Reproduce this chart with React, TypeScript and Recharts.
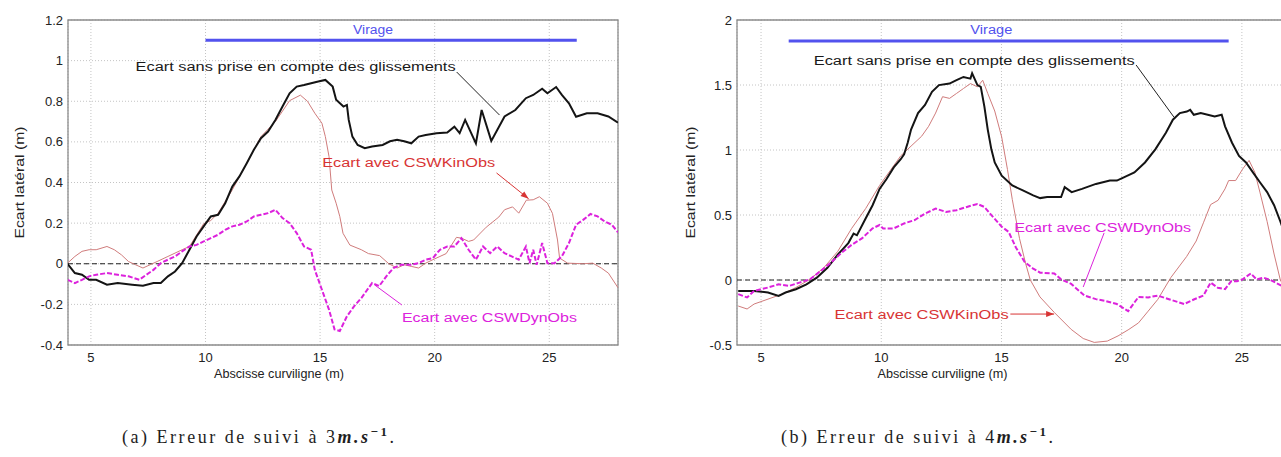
import React from 'react';
import {
  LineChart,
  Line,
  XAxis,
  YAxis,
  CartesianGrid,
  ReferenceLine,
  ReferenceArea,
  ReferenceDot,
} from 'recharts';

const FONT = '"Liberation Sans", Arial, Helvetica, sans-serif';
const SERIF = '"Liberation Serif", "DejaVu Serif", serif';

// Axis ticks
const xTicks = [5, 10, 15, 20, 25];
const yTicksA = [-0.4, -0.2, 0, 0.2, 0.4, 0.6, 0.8, 1, 1.2];
const yTicksB = [-0.5, 0, 0.5, 1, 1.5, 2];

// Texts
const xTitle = 'Abscisse curviligne (m)';
const yTitle = 'Ecart latéral (m)';
const virage = 'Virage';
const noteSans = 'Ecart sans prise en compte des glissements';
const noteKin = 'Ecart avec CSWKinObs';
const noteDyn = 'Ecart avec CSWDynObs';

// (a) 3 m/s — lateral error without slip compensation [abscissa (m), error (m)]
const sansGlissA: [number, number][] = [
  [3.98, 0.0], [4.3, -0.046], [4.61, -0.054], [4.92, -0.079], [5.23, -0.079],
  [5.7, -0.103], [6.17, -0.095], [6.8, -0.103], [7.27, -0.108], [7.73, -0.095],
  [8.05, -0.095], [8.36, -0.062], [8.67, -0.038], [8.98, 0.003], [9.3, 0.069],
  [9.61, 0.134], [9.92, 0.184], [10.23, 0.233], [10.55, 0.241], [10.86, 0.298],
  [11.17, 0.38], [11.48, 0.43], [11.8, 0.495], [12.11, 0.561], [12.42, 0.618],
  [12.73, 0.651], [13.05, 0.708], [13.36, 0.774], [13.67, 0.839], [13.98, 0.872],
  [14.3, 0.88], [14.61, 0.889], [14.92, 0.897], [15.23, 0.905], [15.55, 0.872],
  [15.7, 0.807], [16.02, 0.774], [16.17, 0.782], [16.25, 0.708], [16.41, 0.626],
  [16.64, 0.585], [16.95, 0.569], [17.27, 0.577], [17.73, 0.585], [18.05, 0.603],
  [18.36, 0.61], [18.67, 0.603], [18.98, 0.593], [19.3, 0.626], [19.61, 0.634],
  [20.08, 0.643], [20.55, 0.646], [20.86, 0.675], [21.09, 0.643], [21.33, 0.708],
  [21.8, 0.593], [22.05, 0.757], [22.47, 0.605], [23.05, 0.725], [23.52, 0.757],
  [23.98, 0.815], [24.3, 0.831], [24.69, 0.862], [24.92, 0.839], [25.3, 0.87],
  [25.55, 0.831], [25.86, 0.79], [26.17, 0.724], [26.64, 0.741], [27.11, 0.741],
  [27.58, 0.725], [28.0, 0.695],
];

// (a) 3 m/s — error with CSWKinObs
const kinObsA: [number, number][] = [
  [3.98, 0.003], [4.3, 0.036], [4.61, 0.061], [4.92, 0.069], [5.23, 0.069],
  [5.7, 0.085], [6.02, 0.069], [6.33, 0.044], [6.64, 0.011], [6.95, -0.005],
  [7.27, -0.021], [7.58, -0.005], [7.89, 0.011], [8.36, 0.036], [8.98, 0.069],
  [9.3, 0.085], [9.92, 0.197], [10.23, 0.213], [10.55, 0.249], [11.17, 0.364],
  [11.8, 0.495], [12.42, 0.626], [13.05, 0.7], [13.67, 0.803], [14.14, 0.83],
  [14.45, 0.8], [14.77, 0.741], [15.08, 0.692], [15.23, 0.626], [15.39, 0.528],
  [15.51, 0.363], [15.7, 0.298], [15.86, 0.233], [16.0, 0.15], [16.3, 0.092],
  [16.8, 0.069], [17.11, 0.05], [17.6, 0.04], [18.0, 0.0], [18.36, -0.021],
  [18.67, -0.005], [18.98, -0.013], [19.3, -0.021], [19.61, 0.003], [19.92, 0.02],
  [20.23, 0.036], [20.5, 0.05], [20.95, 0.13], [21.17, 0.126], [21.48, 0.11],
  [21.7, 0.117], [22.25, 0.18], [22.8, 0.23], [23.05, 0.266], [23.4, 0.28],
  [23.67, 0.249], [24.0, 0.313], [24.3, 0.315], [24.57, 0.33], [24.92, 0.298],
  [25.14, 0.248], [25.36, 0.117], [25.45, 0.028], [25.8, 0.003], [26.48, 0.0],
  [26.9, 0.003], [27.27, -0.021], [27.58, -0.046], [28.0, -0.118],
];

// (a) 3 m/s — error with CSWDynObs
const dynObsA: [number, number][] = [
  [3.98, -0.079], [4.3, -0.095], [4.61, -0.079], [4.92, -0.062], [5.23, -0.054],
  [5.7, -0.046], [6.17, -0.054], [6.64, -0.062], [7.11, -0.079], [7.42, -0.054],
  [7.73, -0.03], [8.05, 0.003], [8.36, 0.02], [8.67, 0.036], [8.98, 0.061],
  [9.3, 0.085], [9.61, 0.093], [9.92, 0.11], [10.23, 0.126], [10.55, 0.143],
  [10.86, 0.167], [11.17, 0.184], [11.48, 0.192], [11.8, 0.208], [12.11, 0.233],
  [12.42, 0.241], [12.73, 0.249], [13.05, 0.266], [13.36, 0.225], [13.67, 0.2],
  [13.98, 0.151], [14.3, 0.085], [14.61, 0.069], [14.77, -0.03], [15.08, -0.128],
  [15.39, -0.226], [15.63, -0.323], [15.86, -0.331], [16.17, -0.259], [16.48, -0.21],
  [16.8, -0.169], [17.27, -0.095], [17.58, -0.11], [17.89, -0.062], [18.2, -0.021],
  [18.52, -0.005], [18.98, -0.005], [19.3, 0.003], [19.61, 0.02], [19.92, 0.028],
  [20.23, 0.069], [20.55, 0.085], [20.86, 0.085], [21.17, 0.126], [21.48, 0.069],
  [21.8, 0.02], [22.11, 0.085], [22.42, 0.052], [22.73, 0.085], [23.05, 0.052],
  [23.36, 0.036], [23.67, 0.02], [23.98, 0.085], [24.14, 0.003], [24.3, 0.069],
  [24.45, -0.005], [24.69, 0.102], [24.92, 0.003], [25.23, 0.003], [25.55, 0.036],
  [25.86, 0.102], [26.17, 0.192], [26.48, 0.216], [26.8, 0.245], [27.11, 0.233],
  [27.42, 0.208], [27.73, 0.192], [28.0, 0.155],
];

// (b) 4 m/s — lateral error without slip compensation
const sansGlissB: [number, number][] = [
  [4.05, -0.084], [4.71, -0.084], [5.29, -0.096], [5.73, -0.122], [6.02, -0.096],
  [6.45, -0.071], [6.89, -0.033], [7.32, 0.018], [7.76, 0.094], [8.19, 0.195],
  [8.63, 0.284], [8.85, 0.357], [8.99, 0.344], [9.35, 0.473], [9.64, 0.575],
  [9.93, 0.701], [10.22, 0.777], [10.52, 0.866], [10.81, 0.929], [10.95, 0.967],
  [11.1, 1.056], [11.24, 1.157], [11.53, 1.284], [11.82, 1.347], [12.11, 1.448],
  [12.4, 1.499], [12.84, 1.511], [13.13, 1.537], [13.42, 1.562], [13.71, 1.549],
  [13.78, 1.59], [14.0, 1.499], [14.14, 1.486], [14.29, 1.334], [14.43, 1.157],
  [14.58, 1.005], [14.72, 0.904], [15.01, 0.803], [15.45, 0.727], [15.89, 0.689],
  [16.32, 0.651], [16.61, 0.63], [16.9, 0.638], [17.48, 0.638], [17.63, 0.714],
  [17.92, 0.676], [18.35, 0.701], [18.93, 0.739], [19.51, 0.765], [19.8, 0.765],
  [20.09, 0.79], [20.53, 0.828], [20.97, 0.904], [21.4, 1.005], [21.84, 1.132],
  [22.13, 1.233], [22.42, 1.284], [22.71, 1.296], [22.85, 1.309], [23.0, 1.271],
  [23.29, 1.284], [23.58, 1.271], [23.87, 1.258], [24.16, 1.271], [24.3, 1.182],
  [24.59, 1.056], [24.88, 0.954], [25.17, 0.904], [25.46, 0.828], [25.75, 0.752],
  [26.05, 0.676], [26.34, 0.575], [26.6, 0.45], [26.9, 0.3],
];

// (b) 4 m/s — error with CSWKinObs
const kinObsB: [number, number][] = [
  [4.05, -0.2], [4.42, -0.223], [4.71, -0.185], [5.29, -0.147], [5.87, -0.109],
  [6.45, -0.058], [7.03, 0.005], [7.61, 0.094], [8.19, 0.22], [8.77, 0.397],
  [9.35, 0.549], [9.93, 0.727], [10.37, 0.841], [10.81, 0.955], [11.24, 1.03],
  [11.68, 1.106], [11.97, 1.182], [12.26, 1.284], [12.55, 1.41], [12.84, 1.397],
  [13.13, 1.435], [13.42, 1.473], [13.71, 1.511], [14.0, 1.486], [14.22, 1.537],
  [14.43, 1.435], [14.72, 1.3], [15.01, 1.1], [15.25, 0.85], [15.45, 0.62],
  [15.75, 0.32], [16.0, 0.13], [16.2, 0.0], [16.6, -0.13], [17.2, -0.25],
  [17.9, -0.38], [18.4, -0.45], [18.86, -0.48], [19.4, -0.47], [19.85, -0.43],
  [20.3, -0.38], [20.7, -0.33], [21.1, -0.24], [21.5, -0.15], [22.05, 0.02],
  [22.7, 0.18], [23.1, 0.3], [23.4, 0.44], [23.7, 0.58], [24.01, 0.613],
  [24.3, 0.701], [24.45, 0.765], [24.74, 0.765], [25.03, 0.853], [25.3, 0.92],
  [25.54, 0.828], [25.75, 0.676], [26.05, 0.45], [26.34, 0.2], [26.6, 0.0],
  [26.9, -0.1],
];

// (b) 4 m/s — error with CSWDynObs
const dynObsB: [number, number][] = [
  [4.05, -0.109], [4.42, -0.134], [4.71, -0.084], [5.0, -0.071], [5.29, -0.058],
  [5.73, -0.033], [6.16, -0.046], [6.6, -0.02], [7.03, 0.005], [7.47, 0.068],
  [7.9, 0.132], [8.34, 0.208], [8.77, 0.271], [9.21, 0.322], [9.64, 0.397],
  [9.93, 0.423], [10.08, 0.397], [10.52, 0.397], [10.95, 0.435], [11.39, 0.461],
  [11.82, 0.511], [12.26, 0.549], [12.69, 0.524], [13.13, 0.537], [13.56, 0.562],
  [14.0, 0.585], [14.29, 0.562], [14.58, 0.499], [15.01, 0.41], [15.3, 0.37],
  [15.6, 0.25], [15.96, 0.14], [16.3, 0.09], [16.61, 0.056], [17.2, 0.05],
  [17.48, 0.005], [17.9, -0.03], [18.45, -0.12], [18.93, -0.147], [19.3, -0.16],
  [19.8, -0.185], [20.27, -0.24], [20.7, -0.13], [21.1, -0.134], [21.5, -0.12],
  [22.0, -0.15], [22.6, -0.185], [23.0, -0.15], [23.4, -0.12], [23.7, -0.02],
  [24.0, -0.06], [24.3, -0.07], [24.55, -0.01], [24.8, -0.01], [25.03, 0.005],
  [25.37, 0.05], [25.61, 0.005], [25.9, 0.018], [26.2, 0.0], [26.6, -0.04],
  [26.9, -0.06],
];

type Pt = { x: number; y: number };
const toPts = (a: [number, number][]): Pt[] => a.map(([x, y]) => ({ x, y }));

const BLACK = '#141414';
const KIN = '#d07c7c';
const KIN_TEXT = '#d83434';
const DYN = '#dc22dc';
const BLUE = '#5252ee';

// Text placed at a data point (centre of the reference dot's view box)
const note =
  (text: string, color: string, width: number, anchor: 'start' | 'middle' = 'start', size = 12) =>
  (p: any) => {
    const vb = p && p.viewBox ? p.viewBox : {};
    const cx = (vb.x ?? 0) + (vb.width ?? 0) / 2;
    const cy = (vb.y ?? 0) + (vb.height ?? 0) / 2;
    return (
      <text
        x={cx}
        y={cy}
        dy="0.35em"
        fill={color}
        fontSize={size}
        fontFamily={FONT}
        textAnchor={anchor}
        textLength={width}
        lengthAdjust="spacingAndGlyphs"
      >
        {text}
      </text>
    );
  };

// Leader segment, optionally ending in an arrow head
const leader = (color: string, head: boolean) => (p: any) => {
  const { x1, y1, x2, y2 } = p;
  const ang = Math.atan2(y2 - y1, x2 - x1);
  const L = 8;
  const W = 3;
  const bx = x2 - L * Math.cos(ang);
  const by = y2 - L * Math.sin(ang);
  const tri = `${x2},${y2} ${bx - W * Math.sin(ang)},${by + W * Math.cos(ang)} ${bx + W * Math.sin(ang)},${by - W * Math.cos(ang)}`;
  return (
    <g>
      <line x1={x1} y1={y1} x2={x2} y2={y2} stroke={color} strokeWidth={1} />
      {head && <polygon points={tri} fill={color} />}
    </g>
  );
};

const yTitleLabel = (shift: number) => (p: any) => {
  const vb = p && p.viewBox ? p.viewBox : {};
  const x = (vb.x ?? 0) - shift;
  const y = (vb.y ?? 0) + (vb.height ?? 0) / 2;
  return (
    <text
      x={x}
      y={y}
      transform={`rotate(-90 ${x} ${y})`}
      textAnchor="middle"
      dy="0.35em"
      fontSize={12}
      fontFamily={FONT}
      fill="#222"
      textLength={112}
      lengthAdjust="spacingAndGlyphs"
    >
      {yTitle}
    </text>
  );
};

const xTitleLabel = (dx: number) => (p: any) => {
  const vb = p && p.viewBox ? p.viewBox : {};
  const x = (vb.x ?? 0) + (vb.width ?? 0) / 2 + dx;
  const y = (vb.y ?? 0) + 29;
  return (
    <text
      x={x}
      y={y}
      textAnchor="middle"
      dy="0.35em"
      fontSize={12}
      fontFamily={FONT}
      fill="#222"
      textLength={130}
      lengthAdjust="spacingAndGlyphs"
    >
      {xTitle}
    </text>
  );
};

const tickStyle = { fontSize: 13, fill: '#222', fontFamily: FONT };

function Caption({ x, letter, speed }: { x: number; letter: string; speed: string }) {
  return (
    <text
      x={x}
      y={443}
      textAnchor="middle"
      fontFamily={SERIF}
      fontSize={18}
      fill="#1e1e1e"
      textLength={272}
      lengthAdjust="spacing"
    >
      {`(${letter}) Erreur de suivi à ${speed}`}
      <tspan fontWeight="bold" fontStyle="italic">m.s</tspan>
      <tspan fontWeight="bold" fontSize={13} dy={-7}>−1</tspan>
      <tspan dy={7}>.</tspan>
    </text>
  );
}

export default function App() {
  const A = {
    black: toPts(sansGlissA),
    kin: toPts(kinObsA),
    dyn: toPts(dynObsA),
  };
  const B = {
    black: toPts(sansGlissB),
    kin: toPts(kinObsB),
    dyn: toPts(dynObsB),
  };

  return (
    <div
      style={{
        position: 'absolute',
        left: 0,
        top: 0,
        width: 1281,
        height: 457,
        overflow: 'hidden',
        background: '#fff',
      }}
    >
      {/* (a) 3 m/s */}
      <div style={{ position: 'absolute', left: 0, top: 0 }}>
        <LineChart width={640} height={400} margin={{ top: 20, right: 22, bottom: 18, left: 28 }}>
          <CartesianGrid stroke="#c4c4c4" strokeDasharray="1 2" />
          <XAxis
            type="number"
            dataKey="x"
            domain={[4, 28]}
            ticks={xTicks}
            allowDataOverflow
            height={37}
            axisLine={false}
            tickLine={false}
            tickSize={0}
            tickMargin={8}
            tick={tickStyle}
            label={xTitleLabel(-64)}
          />
          <YAxis
            type="number"
            domain={[-0.4, 1.2]}
            ticks={yTicksA}
            allowDataOverflow
            width={40}
            axisLine={false}
            tickLine={false}
            tickSize={0}
            tickMargin={5}
            tick={tickStyle}
            label={yTitleLabel(8)}
          />
          <ReferenceArea x1={4} x2={28} y1={-0.4} y2={1.2} fill="none" stroke="#8c8c8c" strokeWidth={1.3} />
          <ReferenceLine y={0} stroke="#222" strokeWidth={1.2} strokeDasharray="5 3" />
          <ReferenceLine segment={[{ x: 10, y: 1.1 }, { x: 26.2, y: 1.1 }]} stroke={BLUE} strokeWidth={3} />
          <Line data={A.kin} dataKey="y" type="linear" stroke={KIN} strokeWidth={1} dot={false} isAnimationActive={false} />
          <Line data={A.black} dataKey="y" type="linear" stroke={BLACK} strokeWidth={2} dot={false} isAnimationActive={false} />
          <Line data={A.dyn} dataKey="y" type="linear" stroke={DYN} strokeWidth={2} strokeDasharray="5 2" dot={false} isAnimationActive={false} />
          <ReferenceLine segment={[{ x: 20.96, y: 0.944 }, { x: 22.83, y: 0.732 }]} shape={leader('#222', false)} />
          <ReferenceLine segment={[{ x: 22.7, y: 0.447 }, { x: 24.1, y: 0.32 }]} shape={leader(KIN_TEXT, true)} />
          <ReferenceLine segment={[{ x: 18.57, y: -0.203 }, { x: 17.39, y: -0.105 }]} shape={leader(DYN, false)} />
          <ReferenceDot x={17.31} y={1.151} r={0} fill="none" stroke="none" label={note(virage, BLUE, 40, 'middle')} />
          <ReferenceDot x={6.95} y={0.971} r={0} fill="none" stroke="none" label={note(noteSans, '#1a1a1a', 320)} />
          <ReferenceDot x={15.09} y={0.496} r={0} fill="none" stroke="none" label={note(noteKin, KIN_TEXT, 173)} />
          <ReferenceDot x={18.57} y={-0.267} r={0} fill="none" stroke="none" label={note(noteDyn, DYN, 175)} />
        </LineChart>
      </div>

      {/* (b) 4 m/s */}
      <div style={{ position: 'absolute', left: 680, top: 0 }}>
        <LineChart width={660} height={400} margin={{ top: 20, right: 26, bottom: 18, left: 17 }}>
          <CartesianGrid stroke="#c4c4c4" strokeDasharray="1 2" />
          <XAxis
            type="number"
            dataKey="x"
            domain={[4, 28]}
            ticks={xTicks}
            allowDataOverflow
            height={37}
            axisLine={false}
            tickLine={false}
            tickSize={0}
            tickMargin={8}
            tick={tickStyle}
            label={xTitleLabel(-83)}
          />
          <YAxis
            type="number"
            domain={[-0.5, 2]}
            ticks={yTicksB}
            allowDataOverflow
            width={40}
            axisLine={false}
            tickLine={false}
            tickSize={0}
            tickMargin={5}
            tick={tickStyle}
            label={yTitleLabel(6)}
          />
          <ReferenceArea x1={4} x2={28} y1={-0.5} y2={2} fill="none" stroke="#8c8c8c" strokeWidth={1.3} />
          <ReferenceLine y={0} stroke="#222" strokeWidth={1.2} strokeDasharray="5 3" />
          <ReferenceLine segment={[{ x: 6.15, y: 1.838 }, { x: 24.45, y: 1.838 }]} stroke={BLUE} strokeWidth={3} />
          <Line data={B.kin} dataKey="y" type="linear" stroke={KIN} strokeWidth={1} dot={false} isAnimationActive={false} />
          <Line data={B.black} dataKey="y" type="linear" stroke={BLACK} strokeWidth={2} dot={false} isAnimationActive={false} />
          <Line data={B.dyn} dataKey="y" type="linear" stroke={DYN} strokeWidth={2} strokeDasharray="5 2" dot={false} isAnimationActive={false} />
          <ReferenceLine segment={[{ x: 20.6, y: 1.654 }, { x: 22.17, y: 1.254 }]} shape={leader('#222', false)} />
          <ReferenceLine segment={[{ x: 19.27, y: 0.362 }, { x: 18.4, y: -0.054 }]} shape={leader(DYN, false)} />
          <ReferenceLine segment={[{ x: 15.37, y: -0.262 }, { x: 17.19, y: -0.262 }]} shape={leader(KIN_TEXT, true)} />
          <ReferenceDot x={14.58} y={1.923} r={0} fill="none" stroke="none" label={note(virage, BLUE, 42, 'middle')} />
          <ReferenceDot x={7.19} y={1.69} r={0} fill="none" stroke="none" label={note(noteSans, '#1a1a1a', 321)} />
          <ReferenceDot x={15.53} y={0.4} r={0} fill="none" stroke="none" label={note(noteDyn, DYN, 177)} />
          <ReferenceDot x={8.06} y={-0.269} r={0} fill="none" stroke="none" label={note(noteKin, KIN_TEXT, 174)} />
        </LineChart>
      </div>

      {/* sub-figure captions */}
      <svg width={1281} height={457} style={{ position: 'absolute', left: 0, top: 0, pointerEvents: 'none' }}>
        <Caption x={258} letter="a" speed="3" />
        <Caption x={917} letter="b" speed="4" />
      </svg>
    </div>
  );
}
